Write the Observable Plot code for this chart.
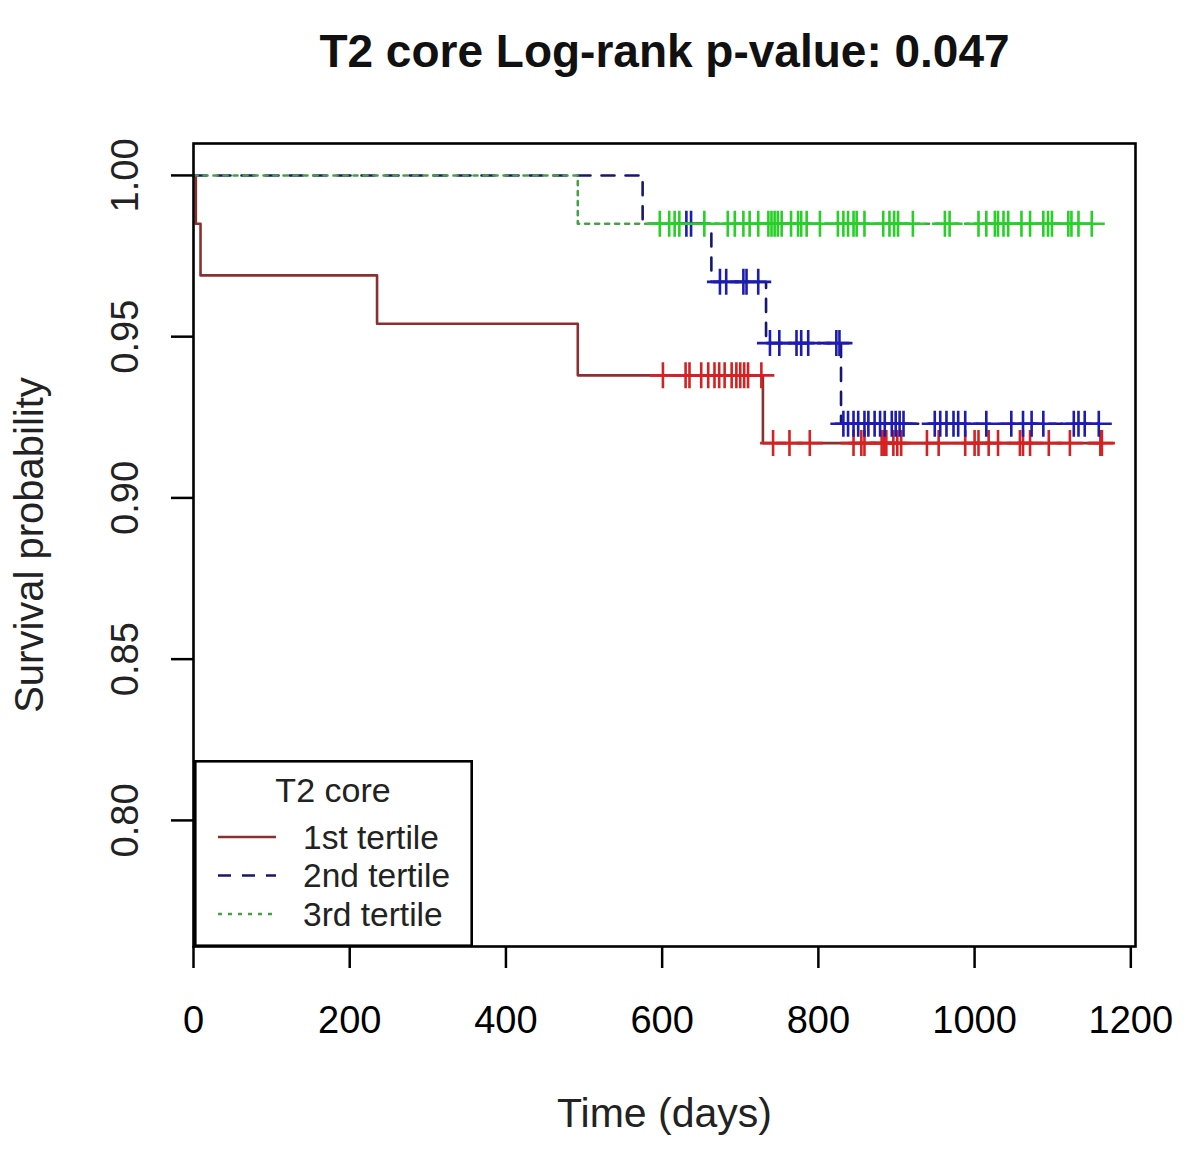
<!DOCTYPE html>
<html>
<head>
<meta charset="utf-8">
<script src="https://cdn.jsdelivr.net/npm/d3@7"></script>
<script src="https://cdn.jsdelivr.net/npm/@observablehq/plot@0.6"></script>
<style>
  html, body { margin: 0; padding: 0; background: #fff; }
  #wrap { position: relative; width: 1200px; height: 1151px; font-family: "Liberation Sans", Arial, sans-serif; }
  #wrap svg [aria-label$="tick"] path, #wrap svg [aria-label$="axis"] .tick line { stroke-width: 2.5px; stroke: #000; }
  #legend { position: absolute; left: 194px; top: 760px; width: 279px; height: 187px; }
</style>
</head>
<body>
<div id="wrap"></div>
<script>
// ---- data ----
const titleText = "T2 core Log-rank p-value: 0.047";
const xLabel = "Time (days)";
const yLabel = "Survival probability";
const legendTitle = "T2 core";
const groups = ["1st tertile", "2nd tertile", "3rd tertile"];
const xTicks = [0, 200, 400, 600, 800, 1000, 1200];
const yTicks = [0.80, 0.85, 0.90, 0.95, 1.00];

// Kaplan-Meier step points (time in days, survival probability)
const stepTimes1 = [0, 3, 9, 235, 492, 729, 1163];
const stepSurv1  = [1, 0.985, 0.969, 0.954, 0.938, 0.917, 0.917];
const stepTimes2 = [0, 575, 663, 733, 829, 1159];
const stepSurv2  = [1, 0.985, 0.967, 0.948, 0.923, 0.923];
const stepTimes3 = [0, 492, 1150];
const stepSurv3  = [1, 0.985, 0.985];

// censoring times
const censor1 = [601, 630, 635, 650, 659, 667, 673, 680, 689, 695, 700, 705, 710, 727,
  742, 763, 789, 845, 855, 859, 881, 884, 887, 896, 901, 906, 939, 954, 988, 1000, 1005,
  1018, 1030, 1058, 1062, 1071, 1095, 1122, 1161, 1163];
const censor2 = [631, 637, 674, 682, 704, 708, 723, 738, 750, 772, 778, 787, 823, 827,
  832, 838, 845, 851, 859, 864, 872, 879, 885, 894, 899, 904, 909, 949, 956, 964, 973,
  979, 988, 1015, 1047, 1062, 1073, 1088, 1127, 1133, 1141, 1159];
const censor3 = [597, 609, 616, 622, 654, 684, 693, 704, 712, 723, 736, 740, 744, 748,
  753, 765, 774, 778, 785, 802, 825, 832, 838, 845, 849, 859, 883, 891, 897, 902, 921,
  962, 968, 1005, 1015, 1026, 1030, 1037, 1043, 1060, 1071, 1088, 1094, 1099, 1120,
  1124, 1133, 1150];

// ---- styles ----
const lineColors = ["#8b2f2f", "#17176e", "#47a047"];
const markColors = ["#d42222", "#1c1cb0", "#26d026"];
const dashes = [null, "13,11", "4,6"];

// ---- build tables ----
const steps = [[stepTimes1, stepSurv1], [stepTimes2, stepSurv2], [stepTimes3, stepSurv3]];
const censors = [censor1, censor2, censor3];
function survAt(g, t) {
  const [ts, ss] = steps[g];
  let s = ss[0];
  for (let i = 0; i < ts.length; i++) if (ts[i] <= t) s = ss[i];
  return s;
}
const curveData = groups.map((name, g) => steps[g][0].map((t, i) => ({group: name, time: t, surv: steps[g][1][i]})));
const markData = groups.map((name, g) => censors[g].map(t => ({group: name, time: t, surv: survAt(g, t)})));

const plusSymbol = {
  draw(context, size) {
    const r = Math.sqrt(size / Math.PI);
    context.moveTo(-r, 0); context.lineTo(r, 0);
    context.moveTo(0, -r); context.lineTo(0, r);
  }
};

const marks = [];
groups.forEach((name, g) => {
  marks.push(Plot.line(curveData[g], {
    x: "time", y: "surv", curve: "step-after",
    stroke: lineColors[g], strokeWidth: 2.6,
    strokeDasharray: dashes[g] || undefined
  }));
  marks.push(Plot.dot(markData[g], {
    x: "time", y: "surv", symbol: plusSymbol, r: 13,
    fill: "none", stroke: markColors[g], strokeWidth: 2.6
  }));
});

const chart = Plot.plot({
  width: 1200,
  height: 1151,
  marginLeft: 193,
  marginRight: 65,
  marginTop: 143,
  marginBottom: 205,
  style: {fontFamily: "'Liberation Sans', Arial, sans-serif", fontSize: "38px", background: "#fff", color: "#000"},
  x: {domain: [0, 1206], ticks: xTicks, tickSize: 22, tickPadding: 38, label: null, tickFormat: d => String(d)},
  y: {domain: [0.7609, 1.0099], ticks: yTicks, tickSize: 22, label: null, tickFormat: () => ""},
  marks: [
    ...marks,
    Plot.frame({stroke: "#000", strokeWidth: 2.6}),
    Plot.text(yTicks, {y: d => d, text: d => d.toFixed(2), frameAnchor: "left", textAnchor: "middle", lineAnchor: "middle", dx: -68, rotate: -90, fontSize: 38, fill: "#222"}),
    Plot.text([yLabel], {frameAnchor: "left", textAnchor: "middle", lineAnchor: "middle", dx: -163, rotate: -90, fontSize: 40, fill: "#222"}),
    Plot.text([xLabel], {frameAnchor: "bottom", textAnchor: "middle", lineAnchor: "middle", dy: 167, fontSize: 41, fill: "#222"}),
    Plot.text([titleText], {frameAnchor: "top", textAnchor: "middle", lineAnchor: "middle", dy: -91, fontSize: 46, fontWeight: "bold", fill: "#111"})
  ]
});

const wrap = document.getElementById("wrap");
wrap.appendChild(chart);

// ---- legend (bottom-left, R style) ----
const ns = "http://www.w3.org/2000/svg";
const leg = document.createElementNS(ns, "svg");
leg.setAttribute("id", "legend");
leg.setAttribute("width", 279);
leg.setAttribute("height", 187);
leg.style.fontFamily = "'Liberation Sans', Arial, sans-serif";
function el(tag, attrs, txt) {
  const e = document.createElementNS(ns, tag);
  for (const k in attrs) e.setAttribute(k, attrs[k]);
  if (txt != null) e.textContent = txt;
  leg.appendChild(e);
  return e;
}
el("rect", {x: 1.3, y: 1.3, width: 276.4, height: 184.4, fill: "#fff", stroke: "#000", "stroke-width": 2.6});
el("text", {x: 139, y: 30, "text-anchor": "middle", "dominant-baseline": "central", "font-size": 34, fill: "#222"}, legendTitle);
groups.forEach((name, g) => {
  const yy = 77 + g * 38.5;
  const line = el("line", {x1: 24, x2: 82, y1: yy, y2: yy, stroke: lineColors[g], "stroke-width": 2.6});
  if (dashes[g]) line.setAttribute("stroke-dasharray", g === 1 ? "13,11" : "4,6");
  el("text", {x: 109, y: yy, "dominant-baseline": "central", "font-size": 33.5, fill: "#222"}, name);
});
wrap.appendChild(leg);
</script>
</body>
</html>
